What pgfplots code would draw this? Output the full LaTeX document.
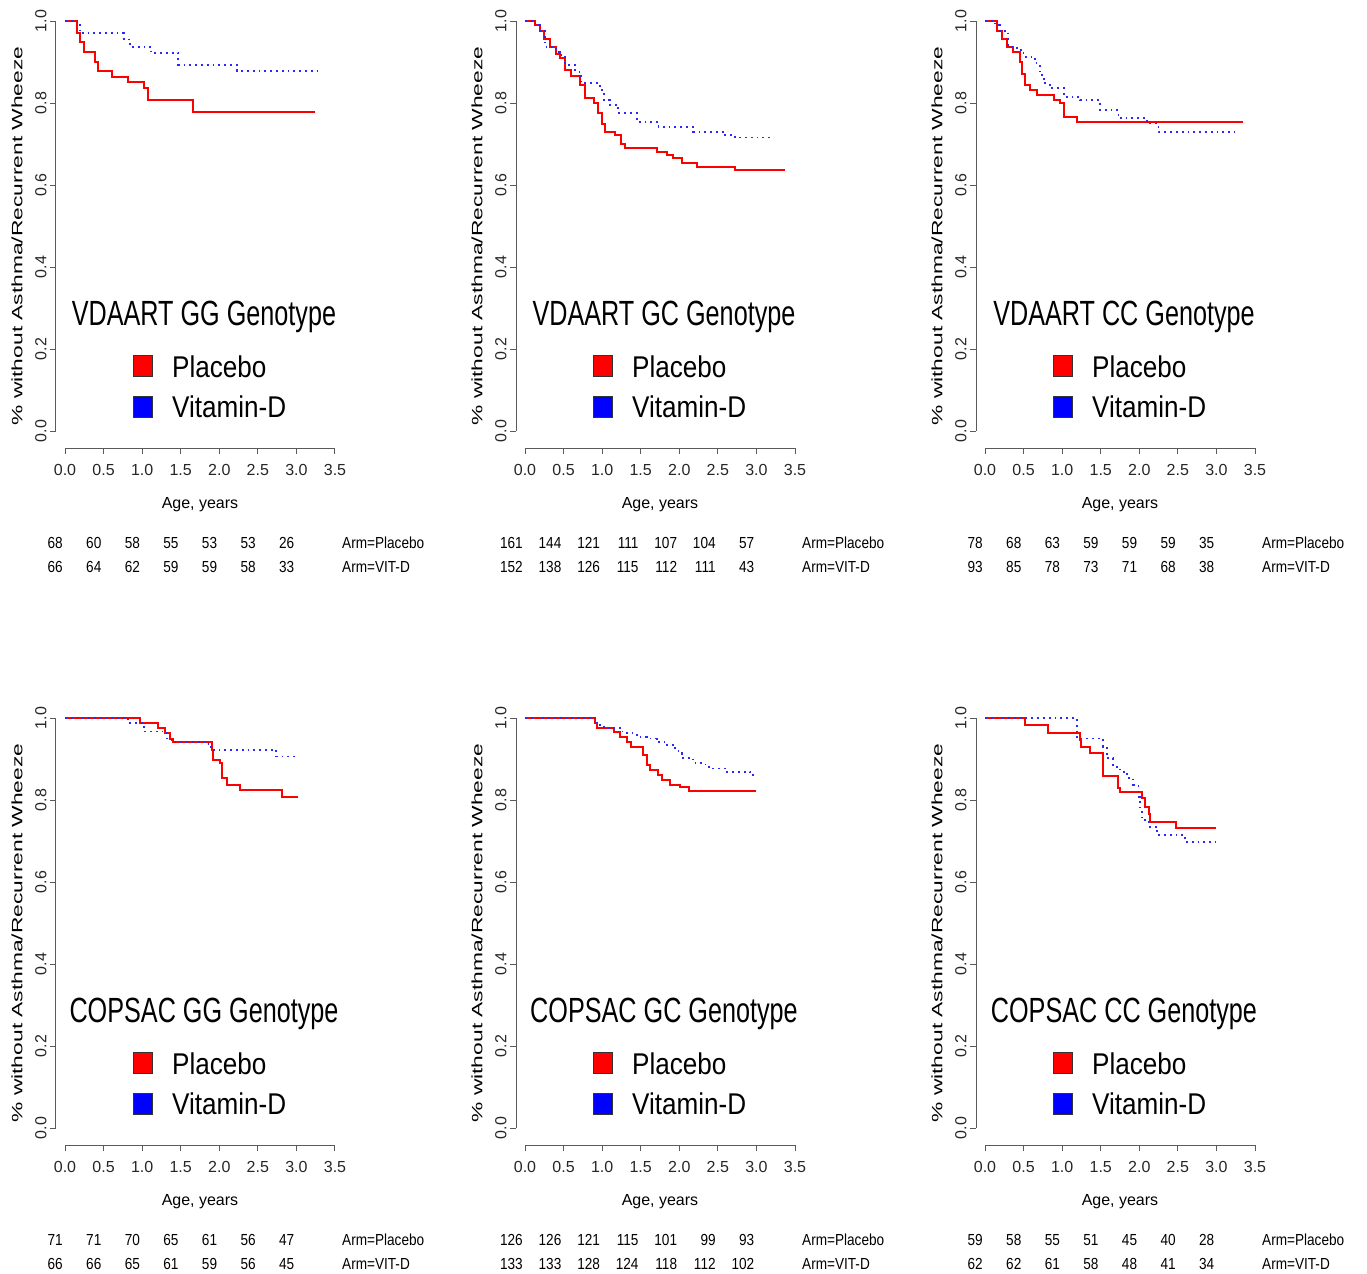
\documentclass[border=0pt]{standalone}
\usepackage{fontspec}
\setmainfont{Liberation Sans}
\newfontfamily\titlefont[FakeStretch=0.72]{Liberation Sans}
\newfontfamily\legfont[FakeStretch=0.87]{Liberation Sans}
\newfontfamily\tabfont[FakeStretch=0.85]{Liberation Sans}
\usepackage{graphicx}
\usepackage{pgfplots}
\pgfplotsset{compat=1.18}

\definecolor{kmred}{RGB}{255,0,0}
\definecolor{kmblue}{RGB}{40,40,255}
\definecolor{axgray}{RGB}{90,90,90}

% one Kaplan-Meier panel, R style: axes pulled away from the data region
\pgfplotsset{km/.style={
  scale only axis, width=270bp, height=410bp,
  xmin=0, xmax=3.5, ymin=0, ymax=1,
  axis lines=left, axis line style={-, axgray, line width=1bp},
  axis x line shift=17bp, axis y line shift=9bp,
  xtick={0,0.5,1,1.5,2,2.5,3,3.5},
  xticklabels={0.0,0.5,1.0,1.5,2.0,2.5,3.0,3.5},
  ytick={0,0.2,0.4,0.6,0.8,1},
  yticklabels={0.0,0.2,0.4,0.6,0.8,1.0},
  tick align=outside, major tick length=6bp,
  tick style={axgray, line width=1bp},
  ticklabel style={font=\fontsize{16bp}{18bp}\selectfont, text=black!85},
  xticklabel style={yshift=-7bp},
  yticklabel style={rotate=90, anchor=south},
  clip=false,
},
placebo/.style={const plot, no marks, color=kmred, line width=2bp},
vitd/.style={const plot, no marks, color=kmblue, line width=1.8bp, dash pattern=on 1.8bp off 4bp}}

% #1 x0, #2 y0 (pixels of data origin), #3 title, #4 placebo, #5 vit-D, #6/#7 numbers at risk
\newcommand\kmpanel[7]{%
  \begin{axis}[km, at={(#1bp,-#2bp)}, anchor=south west]
    \addplot[placebo] coordinates {#4};
    \addplot[vitd] coordinates {#5};
  \end{axis}
  \begin{scope}[x=1bp, y=-1bp, shift={(#1,#2)}]
    \node[rotate=90, font=\fontsize{15bp}{17bp}\selectfont, inner sep=0] at (-48,-195)
      {\scalebox{1.52}[1]{\% without Asthma/Recurrent Wheeze}};
    \node[anchor=base, font=\fontsize{16bp}{18bp}\selectfont, inner sep=0] at (135,77) {Age, years};
    \node[anchor=base, font=\titlefont\fontsize{35bp}{40bp}\selectfont, inner sep=0] at (139,-106) {#3};
    \draw[fill=kmred, draw=black!80, line width=1bp] (68,-76) rectangle (87,-55);
    \draw[fill=blue, draw=black!80, line width=1bp] (68,-35) rectangle (87,-14);
    \node[anchor=base west, font=\legfont\fontsize{30bp}{34bp}\selectfont, inner sep=0] at (107,-54) {Placebo};
    \node[anchor=base west, font=\legfont\fontsize{30bp}{34bp}\selectfont, inner sep=0] at (107,-14) {Vitamin-D};
    \foreach \n [count=\i from 0] in {#6}
      \node[anchor=base east, font=\tabfont\fontsize{16bp}{18bp}\selectfont, inner sep=0] at (38.571*\i-2,117) {\n};
    \foreach \n [count=\i from 0] in {#7}
      \node[anchor=base east, font=\tabfont\fontsize{16bp}{18bp}\selectfont, inner sep=0] at (38.571*\i-2,141) {\n};
    \node[anchor=base west, font=\tabfont\fontsize{16bp}{18bp}\selectfont, inner sep=0] at (277,117) {Arm=Placebo};
    \node[anchor=base west, font=\tabfont\fontsize{16bp}{18bp}\selectfont, inner sep=0] at (277,141) {Arm=VIT-D};
  \end{scope}
}

\begin{document}
\begin{tikzpicture}
\useasboundingbox (0,0) rectangle (1367bp,-1274bp);

\kmpanel{65}{431}{VDAART GG Genotype}
  {(0,1)(0.15,0.97)(0.19,0.95)(0.24,0.925)(0.39,0.90)(0.43,0.879)(0.61,0.864)(0.82,0.852)(1.02,0.836)(1.08,0.807)(1.66,0.779)(3.24,0.779)}
  {(0,1)(0.19,0.97)(0.76,0.955)(0.84,0.937)(1.12,0.921)(1.47,0.893)(2.23,0.878)(3.33,0.878)}
  {68,60,58,55,53,53,26}{66,64,62,59,59,58,33}

\kmpanel{525}{431}{VDAART GC Genotype}
  {(0,1)(0.13,0.99)(0.19,0.975)(0.25,0.955)(0.32,0.937)(0.40,0.92)(0.45,0.909)(0.52,0.88)(0.60,0.865)(0.71,0.844)(0.78,0.811)(0.89,0.80)(0.95,0.775)(1.00,0.75)(1.04,0.73)(1.17,0.722)(1.24,0.70)(1.30,0.69)(1.71,0.681)(1.84,0.673)(1.92,0.665)(2.03,0.653)(2.23,0.645)(2.72,0.637)(3.37,0.637)}
  {(0,1)(0.13,0.99)(0.19,0.975)(0.26,0.937)(0.40,0.925)(0.45,0.917)(0.52,0.893)(0.65,0.876)(0.73,0.848)(0.97,0.832)(1.02,0.807)(1.10,0.795)(1.21,0.775)(1.45,0.754)(1.73,0.742)(2.18,0.730)(2.57,0.722)(2.72,0.716)(3.20,0.716)}
  {161,144,121,111,107,104,57}{152,138,126,115,112,111,43}

\kmpanel{985}{431}{VDAART CC Genotype}
  {(0,1)(0.15,0.975)(0.22,0.955)(0.28,0.937)(0.36,0.925)(0.45,0.90)(0.48,0.87)(0.52,0.844)(0.58,0.832)(0.67,0.820)(0.89,0.807)(0.97,0.80)(1.02,0.767)(1.19,0.754)(3.35,0.754)}
  {(0,1)(0.13,0.99)(0.19,0.975)(0.30,0.937)(0.41,0.929)(0.50,0.913)(0.65,0.897)(0.71,0.868)(0.76,0.848)(0.84,0.836)(1.02,0.815)(1.23,0.807)(1.49,0.783)(1.73,0.763)(2.10,0.750)(2.25,0.730)(3.24,0.730)}
  {78,68,63,59,59,59,35}{93,85,78,73,71,68,38}

\kmpanel{65}{1128}{COPSAC GG Genotype}
  {(0,1)(0.97,0.987)(1.21,0.975)(1.30,0.963)(1.36,0.950)(1.40,0.942)(1.90,0.922)(1.92,0.898)(2.01,0.890)(2.03,0.853)(2.10,0.837)(2.27,0.824)(2.81,0.808)(3.02,0.808)}
  {(0,1)(0.82,0.987)(1.02,0.975)(1.04,0.967)(1.32,0.950)(1.38,0.942)(1.86,0.930)(1.90,0.922)(2.74,0.906)(3.02,0.906)}
  {71,71,70,65,61,56,47}{66,66,65,61,59,56,45}

\kmpanel{525}{1128}{COPSAC GC Genotype}
  {(0,1)(0.91,0.987)(0.93,0.975)(1.15,0.967)(1.23,0.954)(1.32,0.942)(1.38,0.930)(1.53,0.910)(1.58,0.885)(1.62,0.873)(1.73,0.861)(1.77,0.849)(1.88,0.837)(2.01,0.831)(2.12,0.823)(3.00,0.823)}
  {(0,1)(0.93,0.983)(1.02,0.975)(1.23,0.967)(1.32,0.963)(1.45,0.954)(1.58,0.950)(1.71,0.942)(1.84,0.934)(1.92,0.926)(1.99,0.914)(2.03,0.902)(2.18,0.890)(2.34,0.881)(2.44,0.877)(2.59,0.869)(2.92,0.865)(2.96,0.859)(3.00,0.859)}
  {126,126,121,115,101,99,93}{133,133,128,124,118,112,102}

\kmpanel{985}{1128}{COPSAC CC Genotype}
  {(0,1)(0.52,0.983)(0.82,0.964)(1.23,0.946)(1.25,0.930)(1.36,0.914)(1.53,0.859)(1.73,0.829)(1.75,0.820)(2.03,0.804)(2.07,0.784)(2.12,0.767)(2.14,0.747)(2.48,0.731)(3.00,0.731)}
  {(0,1)(1.19,0.950)(1.53,0.930)(1.58,0.902)(1.66,0.881)(1.75,0.869)(1.84,0.853)(1.92,0.837)(1.99,0.808)(2.01,0.776)(2.03,0.751)(2.12,0.735)(2.23,0.715)(2.59,0.698)(3.00,0.698)}
  {59,58,55,51,45,40,28}{62,62,61,58,48,41,34}

\end{tikzpicture}
\end{document}
